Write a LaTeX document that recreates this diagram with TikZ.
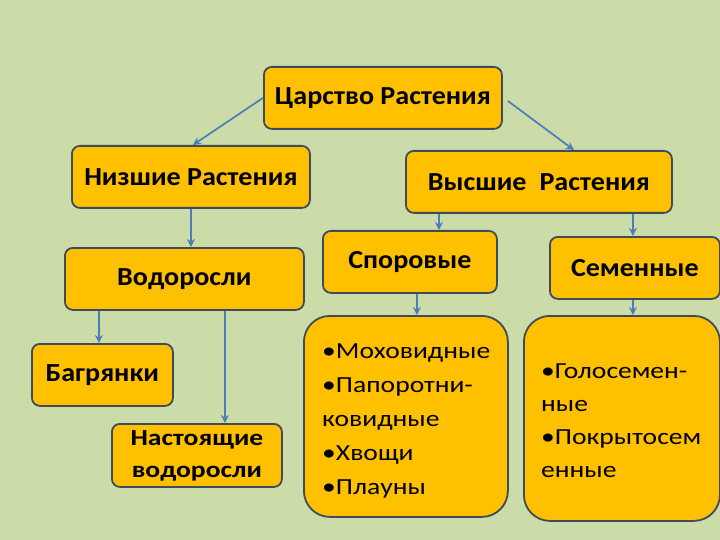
\documentclass[tikz,border=0pt]{standalone}
\usepackage{fontspec}
\setmainfont{Carlito}
\newfontfamily\wideA[FakeStretch=1.08]{Carlito}
\newfontfamily\wideB[FakeStretch=1.2]{Carlito}
\usetikzlibrary{arrows.meta,calc}
\definecolor{bg}{HTML}{CCDCA8}
\definecolor{boxfill}{HTML}{FFC000}
\definecolor{boxline}{HTML}{3F4B5B}
\definecolor{arrowc}{HTML}{4A7EBB}
\tikzset{
  box/.style={draw=boxline, line width=1.8pt, fill=boxfill, rounded corners=8pt,
    inner sep=0pt, anchor=north west, align=center,
    font=\wideA\fontsize{26}{30}\selectfont\bfseries},
  listbox/.style={draw=boxline, line width=1.8pt, fill=boxfill, rounded corners=26pt,
    inner sep=0pt, anchor=north west},
  listtext/.style={inner sep=0pt, anchor=north west, align=left},
  arr/.style={draw=arrowc, line width=1.7pt, -{Stealth[length=8pt,width=8pt]}}
}
\begin{document}
\begin{tikzpicture}[x=1pt,y=-1pt]
\fill[bg] (0,0) rectangle (720,540);
\useasboundingbox (0,0) rectangle (720,540);

\node[box, minimum width=238pt, minimum height=62pt] (top) at (263,66) {Царство Растения};
\node[box, minimum width=238pt, minimum height=62pt] (low) at (71,145) {Низшие Растения};
\node[box, minimum width=266pt, minimum height=62pt] (high) at (405,150) {Высшие\hspace{0.5em}Растения};
\node[box, minimum width=239pt, minimum height=62pt] (alg) at (64,247) {Водоросли};
\node[box, minimum width=174pt, minimum height=62pt] (spor) at (322,230) {Споровые};
\node[box, minimum width=170pt, minimum height=62pt] (sem) at (549,236) {Семенные};
\node[box, minimum width=141pt, minimum height=62pt] (bag) at (31,343) {Багрянки};
\node[box, minimum width=170pt, minimum height=63pt, font=\wideB\fontsize{23}{32}\selectfont\bfseries] (nast) at (111,423) {Настоящие\\водоросли};
\node[listbox, minimum width=204pt, minimum height=201pt] (moss) at (303,315) {};
\node[listbox, minimum width=196pt, minimum height=205pt] (seed) at (523,315) {};
\node[listtext, font=\wideB\fontsize{23}{33.8}\selectfont] (mosstext) at (322,344)
  {•Моховидные\\•Папоротни-\\ковидные\\•Хвощи\\•Плауны};
\node[listtext, font=\wideB\fontsize{23}{33}\selectfont] (seedtext) at (541,364)
  {•Голосемен-\\ные\\•Покрытосем\\енные};

\draw[arr] (top.west) -- ([xshift=2pt]low.north);
\draw[arr] ([xshift=5pt,yshift=-3pt]top.east) -- ([xshift=35pt]high.north);
\draw[arr] (low.south) -- (low.south |- alg.north);
\draw[arr] ([xshift=-100pt]high.south) -- ([xshift=-100pt]high.south |- spor.north);
\draw[arr] ([xshift=94pt]high.south) -- ([xshift=94pt]high.south |- sem.north);
\draw[arr] ([xshift=-85.5pt]alg.south) -- ([xshift=-85.5pt]alg.south |- bag.north);
\draw[arr] ([xshift=40.5pt]alg.south) -- ([xshift=40.5pt]alg.south |- nast.north);
\draw[arr] ([xshift=7pt]spor.south) -- ([xshift=7pt]spor.south |- moss.north);
\draw[arr] ([xshift=-2pt]sem.south) -- ([xshift=-2pt]sem.south |- seed.north);
\end{tikzpicture}
\end{document}
